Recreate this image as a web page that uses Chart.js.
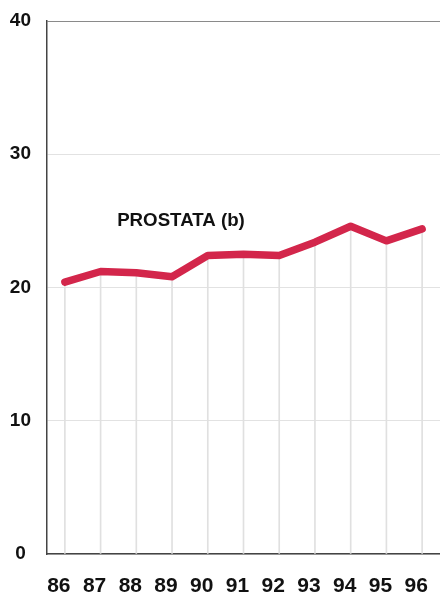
<!DOCTYPE html>
<html>
<head>
<meta charset="utf-8">
<script src="https://cdn.jsdelivr.net/npm/chart.js@4/dist/chart.umd.min.js"></script>
<style>
  html, body { margin: 0; padding: 0; background: #ffffff; }
  #wrap { width: 440px; height: 601px; position: relative; }
</style>
</head>
<body>
<div id="wrap"><canvas id="c" width="440" height="601"></canvas></div>
<script>
// ---- data ----
const years = ['86', '87', '88', '89', '90', '91', '92', '93', '94', '95', '96'];
const prostata = [20.4, 21.2, 21.1, 20.8, 22.4, 22.5, 22.4, 23.4, 24.6, 23.5, 24.4];
const yTicks = [0, 10, 20, 30, 40];
const seriesLabel = 'PROSTATA (b)';
const seriesLabelAt = { x: 3.25, y: 25.0 };

const lineColor = '#d3264b';
const fontFamily = '"Liberation Sans", Arial, sans-serif';

const labelPlugin = {
  id: 'seriesLabel',
  afterDatasetsDraw(chart) {
    const { ctx, scales } = chart;
    const px = scales.x.getPixelForValue(seriesLabelAt.x);
    const py = scales.y.getPixelForValue(seriesLabelAt.y);
    ctx.save();
    ctx.font = 'bold 18.7px ' + fontFamily;
    ctx.fillStyle = '#111';
    ctx.textAlign = 'center';
    ctx.textBaseline = 'middle';
    ctx.fillText(seriesLabel, px, py);
    ctx.restore();
  }
};

new Chart(document.getElementById('c'), {
  data: {
    labels: years,
    datasets: [
      {
        type: 'line',
        data: prostata,
        borderColor: lineColor,
        borderWidth: 7.5,
        pointRadius: 0,
        tension: 0,
        borderCapStyle: 'round',
        borderJoinStyle: 'round',
        order: 1
      },
      {
        type: 'bar',
        data: prostata,
        backgroundColor: '#e0e0e0',
        barThickness: 1,
        order: 2
      }
    ]
  },
  options: {
    responsive: false,
    animation: false,
    devicePixelRatio: 1,
    layout: { padding: { top: 21, right: 0, bottom: 0, left: 0 } },
    plugins: { legend: { display: false }, tooltip: { enabled: false } },
    scales: {
      x: {
        type: 'category',
        offset: true,
        afterFit(scale) {
          scale.height = 47;
          scale.paddingLeft = 0;
          scale.paddingRight = 0;
        },
        grid: { display: false, drawTicks: false },
        border: { display: true, color: '#444', width: 1.5 },
        ticks: {
          color: '#111',
          font: { family: fontFamily, size: 21, weight: 'bold' },
          padding: 20,
          labelOffset: -6,
          maxRotation: 0,
          autoSkip: false
        }
      },
      y: {
        min: 0,
        max: 40,
        afterBuildTicks(scale) { scale.ticks = yTicks.map(v => ({ value: v })); },
        afterFit(scale) {
          scale.width = 47;
          scale.paddingTop = 0;
          scale.paddingBottom = 0;
        },
        grid: {
          drawTicks: false,
          color: (c) => (c.tick && c.tick.value === 40 ? '#8a8a8a' : '#e2e2e2'),
          lineWidth: 1
        },
        border: { display: true, color: '#444', width: 1.5 },
        ticks: {
          color: '#111',
          font: { family: fontFamily, size: 19, weight: 'bold' },
          crossAlign: 'center',
          padding: 16
        }
      }
    }
  },
  plugins: [labelPlugin]
});
</script>
</body>
</html>
